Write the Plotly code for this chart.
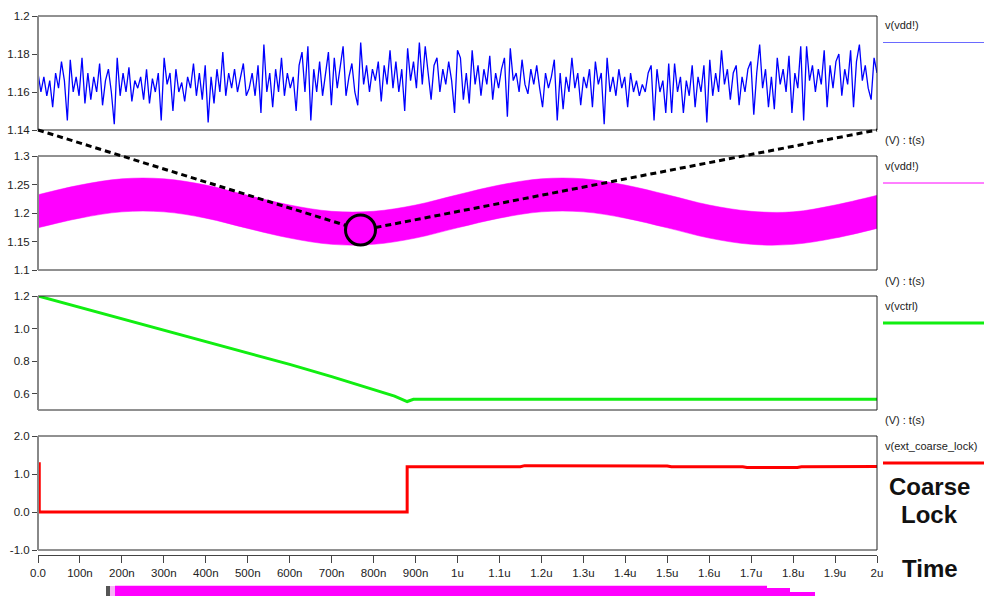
import numpy as np
import plotly.graph_objects as go

# ---------------- data (time in ns) ----------------
vdd_noisy = [
    1.170, 1.160, 1.168, 1.158, 1.166, 1.152, 1.170, 1.162, 1.176, 1.166,
    1.145, 1.177, 1.160, 1.168, 1.158, 1.178, 1.154, 1.170, 1.156, 1.168,
    1.160, 1.175, 1.153, 1.166, 1.172, 1.160, 1.143, 1.178, 1.158, 1.170,
    1.160, 1.173, 1.155, 1.166, 1.162, 1.168, 1.156, 1.172, 1.154, 1.167,
    1.160, 1.170, 1.145, 1.178, 1.164, 1.170, 1.150, 1.172, 1.160, 1.165,
    1.155, 1.168, 1.162, 1.175, 1.158, 1.170, 1.156, 1.174, 1.144, 1.168,
    1.154, 1.172, 1.160, 1.181, 1.158, 1.170, 1.162, 1.172, 1.160, 1.168,
    1.175, 1.158,
    1.162, 1.170, 1.158, 1.174, 1.149, 1.185, 1.160, 1.170, 1.152, 1.172,
    1.160, 1.178, 1.158, 1.170, 1.162, 1.168, 1.150, 1.174, 1.181, 1.160,
    1.184, 1.145, 1.172, 1.160, 1.176, 1.158, 1.170, 1.181, 1.153, 1.178,
    1.162, 1.172, 1.184, 1.158, 1.168, 1.175, 1.160, 1.153, 1.186, 1.164,
    1.174, 1.160, 1.172, 1.166, 1.176, 1.155, 1.174, 1.164, 1.182, 1.162,
    1.176, 1.160, 1.172, 1.150, 1.183, 1.166, 1.176, 1.162, 1.186, 1.164,
    1.184, 1.170, 1.156, 1.174, 1.178, 1.160, 1.172, 1.164, 1.176, 1.166,
    1.149, 1.182,
    1.178, 1.156, 1.170, 1.154, 1.182, 1.164, 1.174, 1.158, 1.172, 1.164,
    1.179, 1.156, 1.170, 1.162, 1.172, 1.178, 1.147, 1.183, 1.166, 1.170,
    1.160, 1.177, 1.164, 1.159, 1.172, 1.164, 1.174, 1.162, 1.152, 1.170,
    1.162, 1.168, 1.177, 1.145, 1.170, 1.151, 1.168, 1.160, 1.178, 1.162,
    1.170, 1.153, 1.168, 1.162, 1.172, 1.152, 1.176, 1.164, 1.170, 1.143,
    1.178, 1.160, 1.168, 1.158, 1.172, 1.162, 1.168, 1.152, 1.170, 1.160,
    1.166, 1.158, 1.164, 1.160, 1.170, 1.174, 1.145, 1.172, 1.160, 1.166,
    1.149, 1.175,
    1.149, 1.175, 1.160, 1.168, 1.149, 1.166, 1.158, 1.174, 1.152, 1.168,
    1.160, 1.174, 1.144, 1.177, 1.158, 1.170, 1.160, 1.182, 1.164, 1.172,
    1.156, 1.170, 1.174, 1.153, 1.168, 1.160, 1.172, 1.176, 1.148, 1.170,
    1.185, 1.162, 1.172, 1.152, 1.168, 1.151, 1.178, 1.164, 1.172, 1.160,
    1.179, 1.149, 1.170, 1.162, 1.184, 1.145, 1.184, 1.166, 1.174, 1.160,
    1.172, 1.164, 1.182, 1.152, 1.174, 1.162, 1.176, 1.180, 1.158, 1.172,
    1.164, 1.182, 1.152, 1.176, 1.185, 1.166, 1.174, 1.162, 1.156, 1.178,
    1.170,
]
t_noisy = np.linspace(0, 2000, len(vdd_noisy))

t_band = [0, 100, 200, 300, 400, 500, 600, 700, 800, 900, 1000,
          1100, 1200, 1300, 1400, 1500, 1600, 1700, 1800, 1900, 2000]
vdd_upper = [1.232, 1.249, 1.260, 1.260, 1.249, 1.231, 1.214, 1.203, 1.203, 1.214, 1.232,
             1.249, 1.260, 1.260, 1.249, 1.232, 1.214, 1.203, 1.202, 1.214, 1.231]
vdd_lower = [1.174, 1.191, 1.202, 1.202, 1.191, 1.173, 1.156, 1.145, 1.145, 1.156, 1.174,
             1.191, 1.202, 1.202, 1.191, 1.174, 1.156, 1.145, 1.145, 1.156, 1.173]

t_ctrl = [0, 100, 200, 300, 400, 500, 600, 700, 800, 850, 880, 895, 2000]
vctrl = [1.2, 1.13, 1.06, 0.99, 0.92, 0.85, 0.78, 0.705, 0.625, 0.585, 0.552, 0.566, 0.566]

t_lock = [0, 3, 3, 880, 880, 1150, 1160, 1340, 1350, 1500, 1510, 1680, 1690, 1810, 1820, 2000]
vlock = [1.27, 1.27, 0.0, 0.0, 1.19, 1.19, 1.22, 1.22, 1.21, 1.21, 1.19, 1.19, 1.17, 1.17, 1.19, 1.20]

x_tickvals = [0, 100, 200, 300, 400, 500, 600, 700, 800, 900, 1000,
              1100, 1200, 1300, 1400, 1500, 1600, 1700, 1800, 1900, 2000]
x_ticktext = ["0.0", "100n", "200n", "300n", "400n", "500n", "600n", "700n", "800n", "900n", "1u",
              "1.1u", "1.2u", "1.3u", "1.4u", "1.5u", "1.6u", "1.7u", "1.8u", "1.9u", "2u"]

y1_ticks = [1.14, 1.16, 1.18, 1.2]
y1_text = ["1.14", "1.16", "1.18", "1.2"]
y2_ticks = [1.1, 1.15, 1.2, 1.25, 1.3]
y2_text = ["1.1", "1.15", "1.2", "1.25", "1.3"]
y3_ticks = [0.6, 0.8, 1.0, 1.2]
y3_text = ["0.6", "0.8", "1.0", "1.2"]
y4_ticks = [-1.0, 0.0, 1.0, 2.0]
y4_text = ["-1.0", "0.0", "1.0", "2.0"]

# ---------------- layout helpers ----------------
W, H = 987, 596
ML, MR, MT, MB = 38, 110, 16, 41
PW, PH = W - ML - MR, H - MT - MB


def px(x):
    return (x - ML) / PW


def py(y):
    return (H - MB - y) / PH


FONT = "Liberation Sans, Arial, sans-serif"
TXT = "#222222"

fig = go.Figure()
fig.add_trace(go.Scatter(x=t_noisy, y=vdd_noisy, mode="lines",
                         line=dict(color="#0000ff", width=1.3), xaxis="x", yaxis="y"))
fig.add_trace(go.Scatter(x=t_band, y=vdd_lower, mode="lines",
                         line=dict(color="#ff00ff", width=0.5, shape="spline"),
                         xaxis="x2", yaxis="y2"))
fig.add_trace(go.Scatter(x=t_band, y=vdd_upper, mode="lines", fill="tonexty",
                         fillcolor="#ff00ff",
                         line=dict(color="#ff00ff", width=0.5, shape="spline"),
                         xaxis="x2", yaxis="y2"))
fig.add_trace(go.Scatter(x=t_ctrl, y=vctrl, mode="lines",
                         line=dict(color="#11ee11", width=3), xaxis="x3", yaxis="y3"))
fig.add_trace(go.Scatter(x=t_lock, y=vlock, mode="lines",
                         line=dict(color="#ff0000", width=3), xaxis="x4", yaxis="y4"))

doms = [(py(130), py(16)), (py(270), py(156)), (py(410), py(296)), (py(550), py(436))]
yranges = [[1.14, 1.2], [1.1, 1.3], [0.5, 1.2], [-1.0, 2.0]]
yticks = [(y1_ticks, y1_text), (y2_ticks, y2_text), (y3_ticks, y3_text), (y4_ticks, y4_text)]

layout = dict(
    width=W, height=H, margin=dict(l=ML, r=MR, t=MT, b=MB, autoexpand=False),
    paper_bgcolor="white", plot_bgcolor="white", showlegend=False,
    font=dict(family=FONT, color=TXT, size=11.5),
)
for i in range(4):
    sx = "" if i == 0 else str(i + 1)
    ax = dict(domain=[0, 1], range=[0, 2000], showgrid=False, zeroline=False,
              anchor="y" + sx, automargin=False)
    if i < 3:
        ax.update(showticklabels=False, ticks="", showline=False)
    else:
        ax.update(anchor="free", position=0, showline=True, linecolor="#444", linewidth=1,
                  ticks="outside", ticklen=7, tickcolor="#444", tickvals=x_tickvals,
                  ticktext=x_ticktext, tickfont=dict(size=11.5, color=TXT, family=FONT))
    layout["xaxis" + sx] = ax
    layout["yaxis" + sx] = dict(domain=list(doms[i]), range=yranges[i], anchor="x" + sx,
                                showgrid=False, zeroline=False, showline=False,
                                automargin=False,
                                ticks="outside", ticklen=5, tickcolor="#444",
                                tickvals=yticks[i][0], ticktext=yticks[i][1],
                                tickfont=dict(size=11.5, color=TXT, family=FONT))
fig.update_layout(**layout)

shapes = []
for i in range(4):
    sx = "" if i == 0 else str(i + 1)
    shapes.append(dict(type="rect", xref="x" + sx + " domain", yref="y" + sx + " domain",
                       x0=0, x1=1, y0=0, y1=1, line=dict(color="#222", width=1), layer="above"))
    shapes.append(dict(type="line", xref="x" + sx + " domain", yref="y" + sx + " domain",
                       x0=0, x1=0, y0=0, y1=1, line=dict(color="#888", width=2), layer="above"))

# legend sample lines on the right
for yy, col, wd in [(42.5, "#6a6aff", 1.2), (183, "#ff00ff", 1), (323, "#11ee11", 3), (463, "#ff0000", 3)]:
    shapes.append(dict(type="line", xref="paper", yref="paper", x0=px(883), x1=px(984),
                       y0=py(yy), y1=py(yy), line=dict(color=col, width=wd)))

# zoom indicator: dashed lines + circle
cx, cy, r = 360.5, 230, 15
shapes.append(dict(type="line", xref="paper", yref="paper", x0=px(38), y0=py(130),
                   x1=px(346.2), y1=py(225.5), line=dict(color="black", width=3, dash="6px,4px")))
shapes.append(dict(type="line", xref="paper", yref="paper", x0=px(375.5), y0=py(227.5),
                   x1=px(877), y1=py(130), line=dict(color="black", width=3, dash="6px,4px")))
shapes.append(dict(type="circle", xref="paper", yref="paper", x0=px(cx - r), x1=px(cx + r),
                   y0=py(cy + r), y1=py(cy - r), line=dict(color="black", width=3)))

# cut-off magenta strip at bottom of the image
shapes.append(dict(type="rect", xref="paper", yref="paper", x0=px(106), x1=px(110),
                   y0=py(597), y1=py(586), fillcolor="#555", line=dict(width=0)))
shapes.append(dict(type="rect", xref="paper", yref="paper", x0=px(110), x1=px(115),
                   y0=py(597), y1=py(586), fillcolor="#f7b0f7", line=dict(width=0)))
shapes.append(dict(type="rect", xref="paper", yref="paper", x0=px(115), x1=px(767),
                   y0=py(597), y1=py(585.7), fillcolor="#ff00ff", line=dict(width=0)))
shapes.append(dict(type="rect", xref="paper", yref="paper", x0=px(767), x1=px(790),
                   y0=py(597), y1=py(588), fillcolor="#ff00ff", line=dict(width=0)))
shapes.append(dict(type="rect", xref="paper", yref="paper", x0=px(790), x1=px(815),
                   y0=py(597), y1=py(592), fillcolor="#ff00ff", line=dict(width=0)))
fig.update_layout(shapes=shapes)

ann = []


def label(text, x, y, size=11, bold=False, xanchor="left"):
    t = "<b>" + text + "</b>" if bold else text
    ann.append(dict(text=t, x=px(x), y=py(y), xref="paper", yref="paper", showarrow=False,
                    xanchor=xanchor, yanchor="middle",
                    font=dict(family=FONT, size=size, color="#111" if bold else TXT)))


label("v(vdd!)", 883, 25)
label("(V) : t(s)", 883, 140)
label("v(vdd!)", 883, 166)
label("(V) : t(s)", 883, 281)
label("v(vctrl)", 883, 306)
label("(V) : t(s)", 883, 420)
label("v(ext_coarse_lock)", 883, 446)
label("Coarse", 929, 486, size=24, bold=True, xanchor="center")
label("Lock", 929, 514, size=24, bold=True, xanchor="center")
label("Time", 930, 568, size=24, bold=True, xanchor="center")
fig.update_layout(annotations=ann)

fig.write_html("out.html", config={"displayModeBar": False},
               post_script="document.body.style.margin='0';document.body.style.overflow='hidden';")
